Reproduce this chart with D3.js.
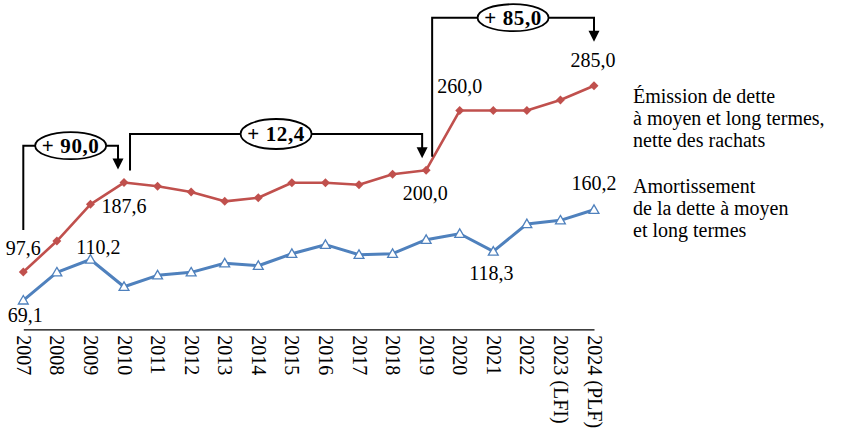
<!DOCTYPE html>
<html>
<head>
<meta charset="utf-8">
<script src="https://cdn.jsdelivr.net/npm/d3@7/dist/d3.min.js"></script>
<style>
  body { margin: 0; background: #fff; }
  svg { display: block; }
  svg text { font-family: "Liberation Serif", serif; }
</style>
</head>
<body>
<div id="main"></div>
<script>
// categories on the x axis
const years = ["2007", "2008", "2009", "2010", "2011", "2012", "2013", "2014", "2015",
  "2016", "2017", "2018", "2019", "2020", "2021", "2022", "2023 (LFI)", "2024 (PLF)"];

// Emission de dette a moyen et long termes, nette des rachats (Md EUR)
const emission = [97.6, 128.8, 165.7, 187.6, 183.8, 178.1, 168.7, 172.3, 187.4,
  187.4, 185.4, 195.9, 200.0, 260.0, 260.0, 260.0, 270.6, 285.0];

// Amortissement de la dette a moyen et long termes (Md EUR)
const amortissement = [69.1, 97.3, 110.2, 82.8, 94.3, 97.3, 106.4, 103.9, 116.0,
  125.1, 115.0, 116.0, 130.1, 136.1, 118.3, 145.9, 149.6, 160.2];

const legendEmission = ["Émission de dette", "à moyen et long termes,", "nette des rachats"];
const legendAmort = ["Amortissement", "de la dette à moyen", "et long termes"];

// variations shown with the brackets (from index -> to index)
const variations = [
  { from: 0, to: 3, label: "+ 90,0" },
  { from: 3, to: 12, label: "+ 12,4" },
  { from: 12, to: 17, label: "+ 85,0" }
];

const ctx = {
  width: 844,
  height: 437,
  red: "#C0504D",
  blue: "#4F81BD",
  font: "Liberation Serif, serif"
};

const fmt = v => d3.format(".1f")(v).replace(".", ",");

function createViz() {
  const svg = d3.select("#main").append("svg")
    .attr("width", ctx.width)
    .attr("height", ctx.height)
    .attr("font-family", ctx.font);

  const x = d3.scalePoint().domain(years).range([23.3, 594]);
  const y = d3.scaleLinear().domain([40, 285]).range([329.3, 85.7]);

  // x axis, labels turned to read downwards
  const axis = svg.append("g")
    .attr("transform", `translate(0,${y(40)})`)
    .call(d3.axisBottom(x).tickSize(0))
    .attr("font-family", ctx.font);
  axis.select(".domain").attr("stroke", "#000").attr("stroke-width", 1.2);
  axis.selectAll("text")
    .attr("transform", "rotate(90)")
    .attr("x", 6)
    .attr("y", 0)
    .attr("dy", "0.35em")
    .attr("text-anchor", "start")
    .attr("font-size", 20)
    .attr("fill", "#000");

  const line = d3.line().x((d, i) => x(years[i])).y(d => y(d));

  // blue series
  svg.append("path").datum(amortissement)
    .attr("fill", "none").attr("stroke", ctx.blue).attr("stroke-width", 3)
    .attr("stroke-linejoin", "round")
    .attr("d", line);
  svg.append("g").selectAll("path").data(amortissement).join("path")
    .attr("d", d3.symbol().type(d3.symbolTriangle).size(42))
    .attr("transform", (d, i) => `translate(${x(years[i])},${y(d) + 0.8})`)
    .attr("fill", "#fff").attr("stroke", ctx.blue).attr("stroke-width", 1.3);

  // red series
  svg.append("path").datum(emission)
    .attr("fill", "none").attr("stroke", ctx.red).attr("stroke-width", 2.6)
    .attr("stroke-linejoin", "round")
    .attr("d", line);
  svg.append("g").selectAll("path").data(emission).join("path")
    .attr("d", d3.symbol().type(d3.symbolSquare).size(40))
    .attr("transform", (d, i) => `translate(${x(years[i])},${y(d)}) rotate(45)`)
    .attr("fill", ctx.red);

  // data labels (series, index, dx, dy from the point to the baseline)
  const labels = [
    [emission, 0, 0, -17],
    [amortissement, 0, 2, 22],
    [amortissement, 2, 8, -6],
    [emission, 3, 0, 30],
    [emission, 12, -1, 30],
    [amortissement, 14, -2, 29],
    [amortissement, 17, 0, -20],
    [emission, 13, 0, -18],
    [emission, 17, -1, -19]
  ];
  svg.append("g").selectAll("text").data(labels).join("text")
    .attr("x", d => x(years[d[1]]) + d[2])
    .attr("y", d => y(d[0][d[1]]) + d[3])
    .attr("text-anchor", "middle")
    .attr("font-size", 20)
    .text(d => fmt(d[0][d[1]]));

  // brackets with the variation between two points
  const brackets = [
    { level: 145.7, startGap: 42, endGap: 13, dxStart: 0, dxEnd: -6, ry: 13.5 },
    { level: 134, startGap: 12, endGap: 12, dxStart: 6, dxEnd: -4, ry: 15 },
    { level: 17.7, startGap: 13.5, endGap: 44, dxStart: 6, dxEnd: 0, ry: 13.5 }
  ];
  const bg = svg.append("g");
  variations.forEach((v, k) => {
    const b = brackets[k];
    const x0 = x(years[v.from]) + b.dxStart;
    const x1 = x(years[v.to]) + b.dxEnd;
    const y0 = y(emission[v.from]) - b.startGap;
    const tip = y(emission[v.to]) - b.endGap;
    bg.append("path")
      .attr("d", `M${x0},${y0}V${b.level}H${x1}V${tip - 10}`)
      .attr("fill", "none").attr("stroke", "#000").attr("stroke-width", 2);
    bg.append("path")
      .attr("d", `M${x1},${tip}L${x1 - 5.5},${tip - 11}L${x1 + 5.5},${tip - 11}Z`)
      .attr("fill", "#000");
    const cx = (x0 + x1) / 2;
    bg.append("ellipse")
      .attr("cx", cx).attr("cy", b.level)
      .attr("rx", 35.5).attr("ry", b.ry)
      .attr("fill", "#fff").attr("stroke", "#000").attr("stroke-width", 1.8);
    bg.append("text")
      .attr("x", cx).attr("y", b.level + 7)
      .attr("text-anchor", "middle")
      .attr("font-size", 21).attr("font-weight", "bold")
      .attr("letter-spacing", 0.6)
      .text(v.label);
  });

  // legend text on the right
  const legend = svg.append("g").attr("font-size", 20);
  legend.selectAll("text.em").data(legendEmission).join("text")
    .attr("class", "em")
    .attr("x", 633).attr("y", (d, i) => 102.7 + i * 22)
    .text(d => d);
  legend.selectAll("text.am").data(legendAmort).join("text")
    .attr("class", "am")
    .attr("x", 633).attr("y", (d, i) => 192.7 + i * 22)
    .text(d => d);
}

createViz();
</script>
</body>
</html>
